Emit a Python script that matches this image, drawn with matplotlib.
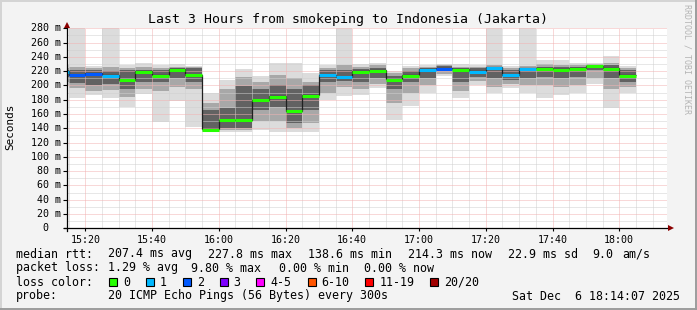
import matplotlib
matplotlib.use("Agg")
import matplotlib.pyplot as plt
from matplotlib.lines import Line2D
from matplotlib.patches import Rectangle
import matplotlib.transforms as mtrans
import numpy as np

# ---------------- data ----------------
title = "Last 3 Hours from smokeping to Indonesia (Jakarta)"
first_bar_start = "15:10"      # start of first (partially visible) 5-minute step
step_minutes = 5
x_tick_labels = ["15:20", "15:40", "16:00", "16:20", "16:40", "17:00", "17:20", "17:40", "18:00"]
y_tick_values = [0, 20, 40, 60, 80, 100, 120, 140, 160, 180, 200, 220, 240, 260, 280]

# per step: smoke extents (ms)
rtt_hi  = [228, 300, 227, 300, 229, 232, 229, 230, 227, 190, 208, 223, 213, 232, 232, 218, 229, 300,
           230, 232, 220, 227, 228, 230, 230, 229, 300, 227, 300, 235, 235, 232, 232, 241, 227]
rtt_q90 = [225, 226, 225, 226, 225, 226, 225, 226, 226, 176, 195, 212, 205, 215, 210, 205, 225, 228,
           226, 228, 217, 224, 226, 228, 226, 226, 228, 224, 227, 230, 229, 228, 230, 232, 225]
rtt_q75 = [222, 221, 222, 220, 222, 222, 222, 224, 224, 165, 168, 199, 195, 200, 195, 200, 222, 222,
           223, 225, 213, 220, 225, 227, 224, 224, 226, 222, 225, 226, 226, 226, 229, 228, 222]
rtt_med = [220, 215.3, 217, 214, 208, 220, 214, 223, 215, 138.6, 152, 152, 180, 184.8, 164.6, 186, 215, 212.5,
           220, 221, 209, 214, 223, 224.6, 223, 220, 225.6, 215, 224, 224, 223, 224, 227.8, 224, 214.3]
rtt_q25 = [212, 203, 200, 202, 195, 205, 205, 210, 205, 137, 140, 140, 165, 170, 148, 165, 205, 206,
           205, 210, 195, 205, 210, 220, 205, 212, 210, 208, 210, 212, 210, 212, 222, 210, 205]
rtt_q10 = [205, 196, 192, 194, 184, 195, 192, 198, 195, 136, 137, 137, 150, 150, 140, 148, 190, 198,
           195, 202, 175, 190, 200, 216, 192, 206, 198, 202, 200, 200, 198, 200, 210, 195, 198]
rtt_lo  = [200, 182, 187, 182, 170, 188, 149, 178, 142, 135, 135, 135, 137, 135, 135, 135, 180, 185,
           187, 196, 152, 171, 190, 213, 182, 201, 190, 197, 190, 183, 187, 190, 202, 169, 190]
loss_count = [1, 2, 2, 1, 0, 0, 0, 0, 0, 0, 0, 0, 0, 0, 0, 0, 1, 1,
              0, 0, 0, 0, 1, 2, 0, 1, 1, 1, 1, 0, 0, 0, 0, 0, 0]

loss_labels = ["0", "1", "2", "3", "4-5", "6-10", "11-19", "20/20"]
loss_colors = ["#26ff00", "#00b8ff", "#0059ff", "#7e00ff", "#ff00ff", "#ff5500", "#ff0000", "#a10000"]
loss_upper = [0, 1, 2, 3, 5, 10, 19, 20]

legend_rtt = ["median rtt:", "207.4 ms avg", "227.8 ms max", "138.6 ms min", "214.3 ms now",
              "22.9 ms sd", "9.0", "am/s"]
legend_loss = ["packet loss:", "1.29 % avg", "9.80 % max", "0.00 % min", "0.00 % now"]
legend_probe = ["probe:", "20 ICMP Echo Pings (56 Bytes) every 300s", "Sat Dec  6 18:14:07 2025"]
y_axis_label = "Seconds"
watermark = "RRDTOOL / TOBI OETIKER"

# ---------------- helpers ----------------
W_PX, H_PX = 697, 310
MONO = "DejaVu Sans Mono"


def hm(s):
    h, m = s.split(":")
    return (int(h) - 15) * 60 + int(m)


def fx(px):
    return px / W_PX


def fy(py):
    return 1 - py / H_PX


def pt(px):
    return px * 72 / 100


fig = plt.figure(figsize=(W_PX / 100, H_PX / 100), dpi=100, facecolor="#f3f3f3")

ax_left_px, ax_right_px = 66.7, 667.4
ax_top_px, ax_bot_px = 28.3, 228.3
ax = fig.add_axes([fx(ax_left_px), fy(ax_bot_px), fx(ax_right_px - ax_left_px),
                   (ax_bot_px - ax_top_px) / H_PX])
ax.set_facecolor("white")

tick_pos = [hm(s) for s in x_tick_labels]
px_per_min = (619.3 - 352.3) / (tick_pos[-1] - tick_pos[4])
x0 = tick_pos[0] - (85.3 - ax_left_px) / px_per_min
x1 = x0 + 180
ax.set_xlim(x0, x1)
ax.set_ylim(0, 280)

n = len(rtt_med)
edges = hm(first_bar_start) + step_minutes * np.arange(n + 1)
lefts = edges[:-1]

# smoke bands
ax.bar(lefts, np.array(rtt_hi) - np.array(rtt_lo), bottom=rtt_lo, width=step_minutes,
       align="edge", color="#dcdcdc", linewidth=0, zorder=1)
ax.bar(lefts, np.array(rtt_q90) - np.array(rtt_q10), bottom=rtt_q10, width=step_minutes,
       align="edge", color="#a8a8a8", linewidth=0, zorder=1.1)
ax.bar(lefts, np.array(rtt_q75) - np.array(rtt_q25), bottom=rtt_q25, width=step_minutes,
       align="edge", color="#626262", linewidth=0, zorder=1.2)

# grid (drawn over smoke, like rrdtool)
dash = (0, (1, 1))
for v in np.arange(10, 280, 20):
    ax.axhline(v, color="#d0d0d0", lw=0.72, ls=dash, zorder=2)
for v in np.arange(20, 281, 20):
    ax.axhline(v, color="#f2b2b2", lw=0.72, ls=dash, zorder=2.1)
for v in np.arange(hm("15:15"), x1, 5):
    if v not in tick_pos:
        ax.axvline(v, color="#d0d0d0", lw=0.72, ls=dash, zorder=2)
for v in tick_pos:
    ax.axvline(v, color="#f2b2b2", lw=0.72, ls=dash, zorder=2.1)

# median step line and loss-coloured stripes
ax.stairs(rtt_med, edges, baseline=None, color="#202020", lw=0.9, zorder=3)


def loss_color(c):
    for up, col in zip(loss_upper, loss_colors):
        if c <= up:
            return col
    return loss_colors[-1]


ax.hlines(np.array(rtt_med) - 0.9, lefts, lefts + step_minutes,
          colors=[loss_color(c) for c in loss_count], lw=2.2, zorder=4)

# axes styling
for s in ["top", "right", "left", "bottom"]:
    ax.spines[s].set_visible(False)
ax.set_xticks(tick_pos)
ax.set_xticklabels(x_tick_labels, fontfamily=MONO, fontsize=pt(10))
ax.tick_params(axis="x", length=2, pad=3, color="#000000")
ax.set_yticks(y_tick_values)
ax.set_yticklabels([])
ax.tick_params(axis="y", length=3, color="#000000")

# y tick labels (number + unit)
bt = mtrans.blended_transform_factory(fig.transFigure, ax.transData)
for v in y_tick_values:
    if v == 0:
        fig.text(fx(48), v, "0", transform=bt, ha="right", va="center",
                 fontfamily=MONO, fontsize=pt(10))
    else:
        fig.text(fx(60.5), v, f"{v} m", transform=bt, ha="right", va="center",
                 fontfamily=MONO, fontsize=pt(10))

# axis lines with arrows
fig.add_artist(Line2D([fx(ax_left_px), fx(ax_left_px)], [fy(231), fy(24)], color="black", lw=0.9))
fig.add_artist(Line2D([fx(63.5), fx(669)], [fy(ax_bot_px), fy(ax_bot_px)], color="black", lw=0.9))
fig.add_artist(Line2D([fx(ax_left_px)], [fy(24.5)], marker="^", markersize=4.5, color="#8b0000",
                      markeredgewidth=0))
fig.add_artist(Line2D([fx(670.5)], [fy(ax_bot_px)], marker=">", markersize=4.5, color="#8b0000",
                      markeredgewidth=0))

# title, axis label, watermark
fig.text(fx(347.5), fy(19), title, ha="center", va="center", fontfamily=MONO, fontsize=pt(13.2))
fig.text(fx(10.5), fy(127), y_axis_label, rotation=90, ha="center", va="center",
         fontfamily=MONO, fontsize=pt(11))
fig.text(fx(687), fy(4), watermark, rotation=270, ha="center", va="top",
         fontfamily=MONO, fontsize=pt(8.3), color="#b4b4b4")

# legend
leg_fs = pt(11.6)
rtt_x = [15.6, 107.6, 208, 308, 408, 507.6, 592.4, 622]
for s, x in zip(legend_rtt, rtt_x):
    fig.text(fx(x), fy(254), s, ha="left", va="center", fontfamily=MONO, fontsize=leg_fs)
loss_x = [15.6, 107.6, 191, 279, 364.4]
for s, x in zip(legend_loss, loss_x):
    fig.text(fx(x), fy(268), s, ha="left", va="center", fontfamily=MONO, fontsize=leg_fs)
fig.text(fx(15.6), fy(282), "loss color:", ha="left", va="center", fontfamily=MONO, fontsize=leg_fs)
box_x = [108.9, 145.8, 182.7, 219.6, 256.4, 307.6, 365.3, 430.2]
for lab, col, bx in zip(loss_labels, loss_colors, box_x):
    fig.add_artist(Rectangle((fx(bx), fy(286)), fx(8), 8 / H_PX, facecolor=col,
                             edgecolor="black", lw=0.8))
    fig.text(fx(bx + 14), fy(282), lab, ha="left", va="center", fontfamily=MONO, fontsize=leg_fs)
fig.text(fx(15.6), fy(296), legend_probe[0], ha="left", va="center", fontfamily=MONO, fontsize=leg_fs)
fig.text(fx(107.6), fy(296), legend_probe[1], ha="left", va="center", fontfamily=MONO, fontsize=leg_fs)
fig.text(fx(680.5), fy(296), legend_probe[2], ha="right", va="center", fontfamily=MONO, fontsize=leg_fs)

# outer border
fig.add_artist(Line2D([fx(0.5), fx(0.5)], [0, 1], color="#d4d4d4", lw=1.4))
fig.add_artist(Line2D([0, 1], [fy(0.5), fy(0.5)], color="#d4d4d4", lw=1.4))
fig.add_artist(Line2D([fx(696), fx(696)], [0, 1], color="#9c9c9c", lw=1.4))
fig.add_artist(Line2D([0, 1], [fy(309), fy(309)], color="#9c9c9c", lw=1.4))

fig.savefig("out.png", dpi=100, facecolor=fig.get_facecolor())
